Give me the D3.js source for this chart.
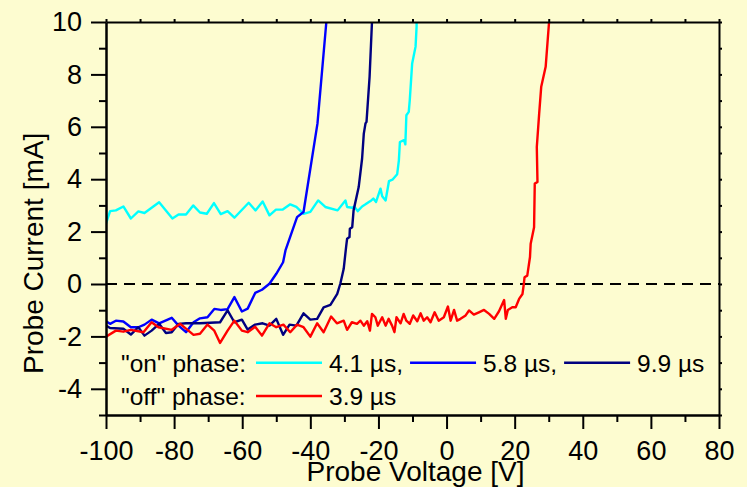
<!DOCTYPE html>
<html>
<head>
<meta charset="utf-8">
<script src="https://cdn.jsdelivr.net/npm/d3@7"></script>
<style>
  html, body { margin: 0; padding: 0; background: #FDFCD0; }
  svg { display: block; }
  text { font-family: "Liberation Sans", Arial, sans-serif; fill: #000; }
</style>
</head>
<body>
<svg id="chart" width="747" height="487"></svg>
<script>
// Probe I-V characteristics: [voltage V, current mA]
const onPhase41 = [
  [-100.0, 2.30], [-98.8, 2.78], [-97.1, 2.81], [-94.9, 2.96], [-92.7, 2.50], [-90.5, 2.77],
  [-88.7, 2.71], [-84.4, 3.12], [-80.5, 2.50], [-78.7, 2.65], [-76.5, 2.65], [-74.4, 3.00],
  [-72.4, 2.73], [-70.4, 2.68], [-68.3, 3.09], [-66.3, 2.67], [-64.3, 2.78], [-62.3, 2.53],
  [-58.1, 3.10], [-56.1, 2.81], [-54.0, 3.15], [-52.0, 2.62], [-50.1, 2.84], [-48.1, 2.84],
  [-45.9, 3.04], [-44.1, 2.94], [-42.0, 2.68], [-40.0, 2.75], [-37.7, 3.19], [-35.6, 2.94],
  [-32.0, 2.81], [-29.7, 3.19], [-29.2, 2.94], [-27.7, 2.91], [-27.1, 2.96], [-26.1, 2.78],
  [-24.8, 2.96], [-23.8, 3.04], [-22.8, 3.13], [-22.1, 3.19], [-21.5, 3.26], [-20.7, 3.13],
  [-19.4, 3.64], [-18.9, 3.35], [-17.9, 3.19], [-16.9, 3.93], [-15.9, 3.98], [-14.5, 4.19],
  [-14.0, 4.72], [-13.7, 5.42], [-12.5, 5.49], [-12.1, 5.33], [-11.8, 6.44], [-11.1, 6.57],
  [-10.8, 7.02], [-10.1, 8.42], [-9.1, 9.06], [-8.8, 9.82], [-8.8, 10.0]
];
const onPhase58 = [
  [-100.0, -1.42], [-98.8, -1.52], [-97.1, -1.40], [-94.9, -1.43], [-92.7, -1.65], [-90.5, -1.65],
  [-88.7, -1.55], [-86.6, -1.36], [-84.4, -1.50], [-80.7, -1.29], [-78.7, -1.59], [-76.5, -1.84],
  [-74.3, -1.46], [-72.4, -1.31], [-70.2, -1.27], [-68.2, -0.95], [-66.3, -0.99], [-64.3, -0.96],
  [-62.3, -0.50], [-60.1, -1.05], [-58.4, -0.94], [-56.2, -0.34], [-54.2, -0.22], [-52.0, 0.01],
  [-50.0, 0.39], [-48.0, 0.83], [-47.3, 1.28], [-43.9, 2.55], [-42.0, 2.75], [-37.9, 6.13],
  [-35.3, 10.0]
];
const onPhase99 = [
  [-100.0, -1.59], [-98.8, -1.68], [-94.9, -1.71], [-92.7, -1.93], [-90.5, -1.65], [-88.7, -1.97],
  [-86.6, -1.78], [-84.4, -1.52], [-82.4, -1.87], [-80.7, -1.84], [-78.7, -1.52], [-76.5, -1.50],
  [-72.4, -1.50], [-66.5, -1.46], [-64.3, -1.01], [-62.3, -1.46], [-60.1, -1.36], [-58.4, -1.74],
  [-56.2, -1.55], [-54.0, -1.50], [-52.0, -1.59], [-50.0, -1.33], [-48.0, -1.94], [-46.1, -1.55],
  [-44.1, -1.59], [-42.0, -1.12], [-40.0, -1.36], [-38.0, -1.33], [-36.1, -0.89], [-34.1, -0.80],
  [-32.1, -0.38], [-31.2, 0.01], [-30.2, 0.58], [-29.5, 1.41], [-29.2, 1.73], [-28.5, 1.79],
  [-28.4, 2.11], [-27.7, 2.17], [-27.3, 2.81], [-25.8, 3.70], [-24.8, 4.79], [-24.3, 5.74],
  [-23.8, 6.13], [-23.5, 6.19], [-22.6, 7.91], [-21.9, 10.0]
];
const offPhase39 = [
  [-100.0, -2.01], [-97.1, -1.78], [-94.9, -1.82], [-92.7, -1.75], [-89.0, -1.84], [-86.6, -1.46],
  [-84.6, -1.65], [-80.7, -1.75], [-78.2, -1.52], [-74.3, -1.94], [-72.4, -1.90], [-70.2, -1.55],
  [-68.2, -1.78], [-66.5, -2.25], [-64.3, -1.78], [-62.3, -1.40], [-60.1, -1.78], [-58.4, -1.84],
  [-56.2, -1.63], [-54.2, -1.97], [-52.0, -1.50], [-50.0, -1.65], [-47.9, -1.55], [-45.9, -1.84],
  [-43.9, -1.55], [-42.0, -1.65], [-40.0, -2.01], [-38.0, -1.50], [-36.1, -1.84], [-33.9, -1.24],
  [-32.2, -1.50], [-30.2, -1.40], [-29.2, -1.75], [-27.8, -1.46], [-26.3, -1.52], [-25.3, -1.40],
  [-24.3, -1.59], [-23.3, -1.42], [-22.5, -1.78], [-21.9, -1.14], [-20.9, -1.27], [-20.2, -1.59],
  [-18.9, -1.27], [-17.9, -1.59], [-17.0, -1.33], [-16.0, -1.59], [-15.3, -1.84], [-14.7, -1.27],
  [-13.5, -1.50], [-12.6, -1.14], [-11.8, -1.40], [-10.8, -1.52], [-9.8, -1.20], [-8.6, -1.42],
  [-7.6, -1.12], [-6.7, -1.40], [-5.7, -1.27], [-4.7, -1.46], [-3.5, -1.08], [-2.3, -1.40],
  [-0.8, -1.27], [0.4, -0.86], [1.2, -1.40], [2.2, -0.99], [3.1, -1.40], [4.1, -1.33],
  [5.6, -1.20], [6.6, -1.01], [8.0, -1.17], [9.5, -1.08], [11.0, -0.99], [12.5, -1.14],
  [14.0, -1.33], [15.4, -1.04], [16.9, -0.61], [17.4, -1.33], [18.0, -0.99], [19.3, -0.89],
  [20.3, -0.89], [21.3, -0.57], [22.3, -0.38], [22.7, 0.01], [22.9, 0.26], [23.7, 0.32],
  [24.5, 1.03], [24.7, 1.54], [25.7, 2.17], [25.9, 3.83], [26.7, 3.89], [26.5, 5.23],
  [27.2, 6.51], [27.8, 7.53], [29.1, 8.29], [30.1, 10.0]
];

const seriesNames = ["4.1 µs", "5.8 µs", "9.9 µs", "3.9 µs"];
const seriesColors = ["#00FFFF", "#0000FF", "#000080", "#FF0000"];

const xMajorTicks = [-100, -80, -60, -40, -20, 0, 20, 40, 60, 80];
const xMinorTicks = [-90, -70, -50, -30, -10, 10, 30, 50, 70];
const yMajorTicks = [-4, -2, 0, 2, 4, 6, 8, 10];
const yMinorTicks = [-5, -3, -1, 1, 3, 5, 7, 9];
const xAllTicks = xMajorTicks.concat(xMinorTicks);
const yAllTicks = yMajorTicks.concat(yMinorTicks);

const xTitle = "Probe Voltage [V]";
const yTitle = "Probe Current [mA]";
const legendRowLabels = ['"on" phase:', '"off" phase:'];

// ---- layout ----
const svg = d3.select("#chart");
const plotLeft = 106, plotRight = 719, plotTop = 22, plotBottom = 415;

const x = d3.scaleLinear().domain([-100, 80]).range([plotLeft, plotRight]);
const y = d3.scaleLinear().domain([-5, 10]).range([plotBottom, plotTop]);

svg.append("rect").attr("width", 747).attr("height", 487).attr("fill", "#FDFCD0");

svg.append("clipPath").attr("id", "plotClip")
  .append("rect").attr("x", plotLeft).attr("y", plotTop - 1)
  .attr("width", plotRight - plotLeft).attr("height", plotBottom - plotTop + 1);

// zero reference line
svg.append("line")
  .attr("x1", x(-100)).attr("x2", x(80))
  .attr("y1", y(0)).attr("y2", y(0))
  .attr("stroke", "#000").attr("stroke-width", 2)
  .attr("stroke-dasharray", "11,7");

// data curves
const line = d3.line().x(d => x(d[0])).y(d => y(d[1]));
const allSeries = [onPhase41, onPhase58, onPhase99, offPhase39];
const curves = svg.append("g").attr("clip-path", "url(#plotClip)");
allSeries.forEach((s, i) => {
  curves.append("path")
    .datum(s)
    .attr("d", line)
    .attr("fill", "none")
    .attr("stroke", seriesColors[i])
    .attr("stroke-width", 2.4)
    .attr("stroke-linejoin", "round");
});

// ---- axes ----
const fmt = d => String(d);
function styleAxis(g) {
  g.selectAll("path.domain").attr("stroke", "#000").attr("stroke-width", 2);
  g.selectAll(".tick line").attr("stroke", "#000").attr("stroke-width", 2);
  g.selectAll(".tick text").style("font-size", "27px")
    .style("font-family", '"Liberation Sans", Arial, sans-serif').attr("fill", "#000");
}

// bottom
svg.append("g").attr("transform", `translate(0,${plotBottom})`)
  .call(d3.axisBottom(x).tickValues(xMinorTicks).tickSize(7).tickSizeOuter(0).tickFormat(""))
  .call(styleAxis);
svg.append("g").attr("transform", `translate(0,${plotBottom})`)
  .call(d3.axisBottom(x).tickValues(xMajorTicks).tickSize(14).tickSizeOuter(0)
    .tickPadding(12).tickFormat(fmt))
  .call(styleAxis);

// left
svg.append("g").attr("transform", `translate(${plotLeft},0)`)
  .call(d3.axisLeft(y).tickValues(yMinorTicks).tickSize(7).tickSizeOuter(0).tickFormat(""))
  .call(styleAxis);
svg.append("g").attr("transform", `translate(${plotLeft},0)`)
  .call(d3.axisLeft(y).tickValues(yMajorTicks).tickSize(15).tickSizeOuter(0)
    .tickPadding(9).tickFormat(fmt))
  .call(styleAxis);

// top and right frame with small ticks
svg.append("g").attr("transform", `translate(0,${plotTop})`)
  .call(d3.axisTop(x).tickValues(xAllTicks).tickSize(3).tickSizeOuter(0).tickFormat(""))
  .call(styleAxis);
svg.append("g").attr("transform", `translate(${plotRight},0)`)
  .call(d3.axisRight(y).tickValues(yAllTicks).tickSize(3).tickSizeOuter(0).tickFormat(""))
  .call(styleAxis);

// axis titles
svg.append("text")
  .attr("x", (plotLeft + plotRight) / 2 + 3).attr("y", 481)
  .attr("text-anchor", "middle")
  .style("font-size", "28px")
  .text(xTitle);

svg.append("text")
  .attr("transform", "translate(43,374) rotate(-90)")
  .attr("text-anchor", "start")
  .style("font-size", "28px")
  .text(yTitle);

// ---- legend ----
const legend = svg.append("g");
const rowBase = [371.5, 405];
const rowLine = [362.7, 396];
const lineLen = 66, gap = 7;
const rows = [[0, 1, 2], [3]];

rows.forEach((items, r) => {
  legend.append("text")
    .attr("x", 121).attr("y", rowBase[r])
    .style("font-size", "24.5px")
    .text(legendRowLabels[r]);
  let cx = 256;
  items.forEach((si, k) => {
    legend.append("line")
      .attr("x1", cx).attr("x2", cx + lineLen)
      .attr("y1", rowLine[r]).attr("y2", rowLine[r])
      .attr("stroke", seriesColors[si]).attr("stroke-width", 2.4);
    cx += lineLen + gap;
    const last = k === items.length - 1;
    const t = legend.append("text")
      .attr("x", cx).attr("y", rowBase[r])
      .style("font-size", "24.5px")
      .text(seriesNames[si] + (last ? "" : ","));
    cx += t.node().getComputedTextLength() + gap;
  });
});
</script>
</body>
</html>
